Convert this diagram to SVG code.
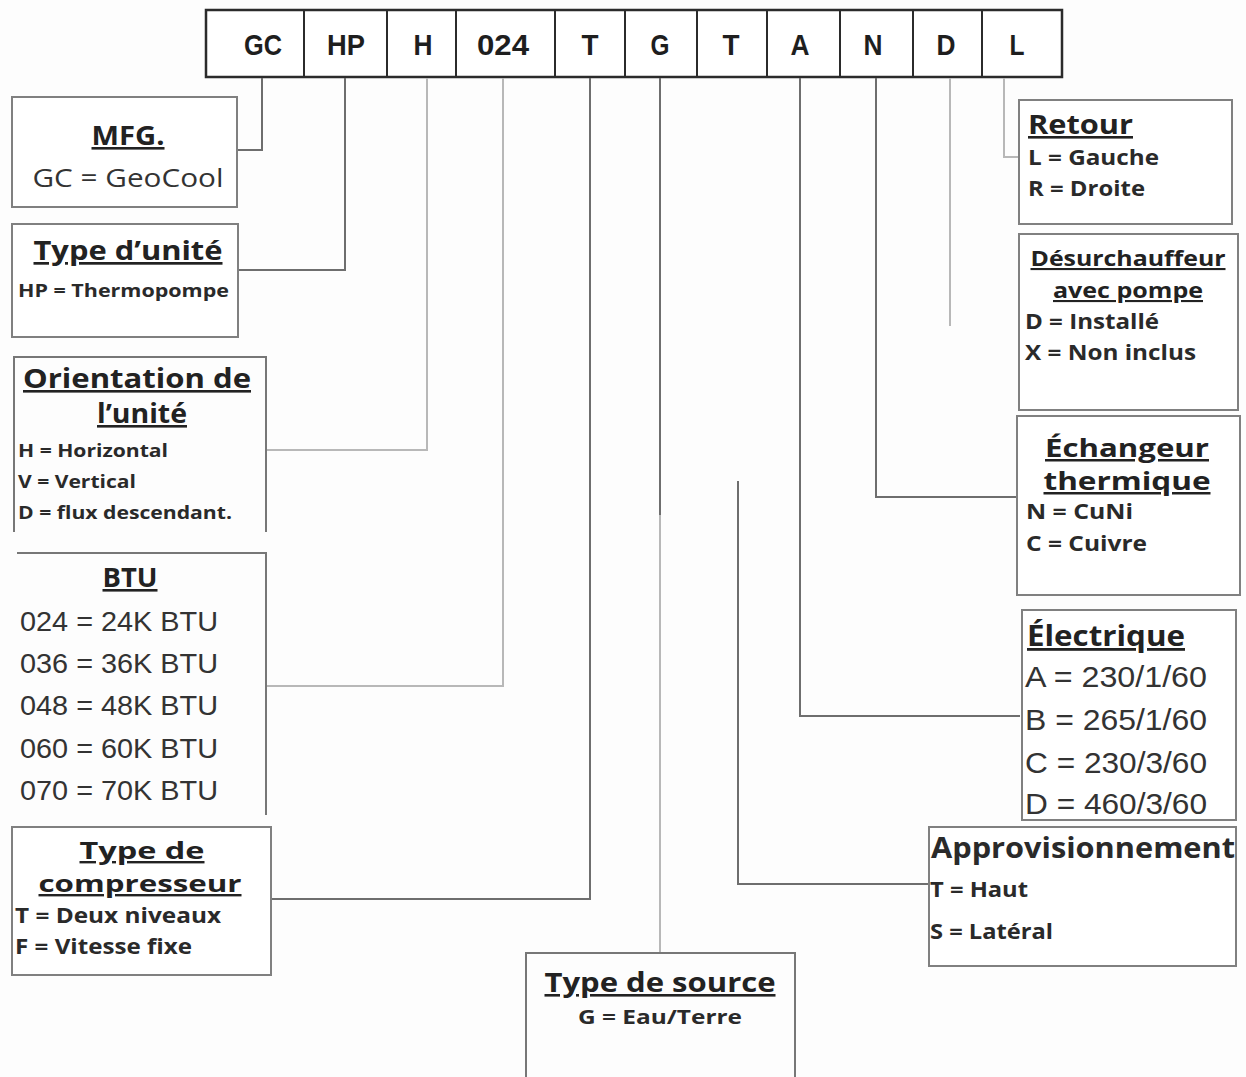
<svg xmlns="http://www.w3.org/2000/svg" width="1246" height="1077" viewBox="0 0 1246 1077">
<style>
.bg{fill:#fdfdfd}
.box{fill:#fff;stroke:#808080;stroke-width:2}
.edge{fill:none;stroke:#777;stroke-width:2}
.hdr{fill:#fff;stroke:#2b2b2b;stroke-width:2.5}
.div{stroke:#2b2b2b;stroke-width:2}
.code{font-family:"Liberation Sans Narrow","Liberation Sans",Arial,sans-serif;font-weight:bold;font-size:30px;fill:#1e1e1e;text-anchor:middle}
.t{font-family:"Open Sans","Noto Sans",sans-serif;font-weight:bold;fill:#222;text-decoration:underline}
.b{font-family:"Open Sans","Noto Sans",sans-serif;font-weight:bold;fill:#2a2a2a}
.r{font-family:"Open Sans","Noto Sans",sans-serif;fill:#333}
.c{font-family:"Liberation Sans","Noto Sans",sans-serif;fill:#333}
.mid{text-anchor:middle}
.ln{fill:none;stroke:#6e6e6e;stroke-width:2}
.lt{fill:none;stroke:#b8b8b8;stroke-width:2}
</style>
<rect class="bg" x="0" y="0" width="1246" height="1077"/>

<g id="header">
<rect class="hdr" x="206" y="10" width="856" height="67"/>
<line class="div" x1="304" y1="10" x2="304" y2="77"/>
<line class="div" x1="387" y1="10" x2="387" y2="77"/>
<line class="div" x1="456" y1="10" x2="456" y2="77"/>
<line class="div" x1="555" y1="10" x2="555" y2="77"/>
<line class="div" x1="625" y1="10" x2="625" y2="77"/>
<line class="div" x1="697" y1="10" x2="697" y2="77"/>
<line class="div" x1="767" y1="10" x2="767" y2="77"/>
<line class="div" x1="840" y1="10" x2="840" y2="77"/>
<line class="div" x1="913" y1="10" x2="913" y2="77"/>
<line class="div" x1="982" y1="10" x2="982" y2="77"/>
<text class="code" x="263" y="55" textLength="38" lengthAdjust="spacingAndGlyphs">GC</text>
<text class="code" x="346" y="55" textLength="38" lengthAdjust="spacingAndGlyphs">HP</text>
<text class="code" x="423" y="55" textLength="19" lengthAdjust="spacingAndGlyphs">H</text>
<text class="code" x="503" y="55" textLength="52" lengthAdjust="spacingAndGlyphs">024</text>
<text class="code" x="590" y="55" textLength="17" lengthAdjust="spacingAndGlyphs">T</text>
<text class="code" x="660" y="55" textLength="19" lengthAdjust="spacingAndGlyphs">G</text>
<text class="code" x="731" y="55" textLength="17" lengthAdjust="spacingAndGlyphs">T</text>
<text class="code" x="800" y="55" textLength="19" lengthAdjust="spacingAndGlyphs">A</text>
<text class="code" x="873" y="55" textLength="19" lengthAdjust="spacingAndGlyphs">N</text>
<text class="code" x="946" y="55" textLength="19" lengthAdjust="spacingAndGlyphs">D</text>
<text class="code" x="1017" y="55" textLength="15" lengthAdjust="spacingAndGlyphs">L</text>
</g>

<g id="connectors">
<polyline class="ln" points="262,78 262,150 237,150"/>
<polyline class="ln" points="345,78 345,270 238,270"/>
<polyline class="lt" points="427,78 427,450 266,450"/>
<polyline class="lt" points="503,78 503,686 266,686"/>
<polyline class="ln" points="590,78 590,899 271,899"/>
<polyline class="ln" points="660,78 660,515"/>
<polyline class="lt" points="660,515 660,953"/>
<polyline class="ln" points="738,481 738,884 929,884"/>
<polyline class="ln" points="800,78 800,716 1020,716"/>
<polyline class="ln" points="876,78 876,497 1017,497"/>
<polyline class="lt" points="950,78 950,326"/>
<polyline class="lt" points="1004,78 1004,157 1019,157"/>
</g>

<g id="mfg">
<rect class="box" x="12" y="97" width="225" height="110"/>
<text class="t mid" x="128" y="145" font-size="26" textLength="73" lengthAdjust="spacingAndGlyphs">MFG.</text>
<text class="r mid" x="128" y="187" font-size="26" textLength="191" lengthAdjust="spacingAndGlyphs">GC = GeoCool</text>
</g>

<g id="type-unite">
<rect class="box" x="12" y="224" width="226" height="113"/>
<text class="t mid" x="128" y="260" font-size="27" textLength="189" lengthAdjust="spacingAndGlyphs">Type d’unité</text>
<text class="b" x="18" y="297" font-size="18" textLength="211" lengthAdjust="spacingAndGlyphs">HP = Thermopompe</text>
</g>

<g id="orientation">
<path class="edge" d="M14,532 V357 H266 V532"/>
<text class="t mid" x="137" y="388" font-size="26" textLength="228" lengthAdjust="spacingAndGlyphs">Orientation de</text>
<text class="t mid" x="142" y="423" font-size="26" textLength="90" lengthAdjust="spacingAndGlyphs">l’unité</text>
<text class="b" x="18" y="457" font-size="18" textLength="150" lengthAdjust="spacingAndGlyphs">H = Horizontal</text>
<text class="b" x="18" y="488" font-size="18" textLength="118" lengthAdjust="spacingAndGlyphs">V = Vertical</text>
<text class="b" x="18" y="519" font-size="18" textLength="214" lengthAdjust="spacingAndGlyphs">D = flux descendant.</text>
</g>

<g id="btu">
<path class="edge" d="M17,553 H266 V815"/>
<text class="t mid" x="130" y="587" font-size="26" textLength="55" lengthAdjust="spacingAndGlyphs">BTU</text>
<text class="c" x="20" y="631" font-size="28" textLength="198" lengthAdjust="spacingAndGlyphs">024 = 24K BTU</text>
<text class="c" x="20" y="673" font-size="28" textLength="198" lengthAdjust="spacingAndGlyphs">036 = 36K BTU</text>
<text class="c" x="20" y="715" font-size="28" textLength="198" lengthAdjust="spacingAndGlyphs">048 = 48K BTU</text>
<text class="c" x="20" y="758" font-size="28" textLength="198" lengthAdjust="spacingAndGlyphs">060 = 60K BTU</text>
<text class="c" x="20" y="800" font-size="28" textLength="198" lengthAdjust="spacingAndGlyphs">070 = 70K BTU</text>
</g>

<g id="compresseur">
<rect class="box" x="12" y="827" width="259" height="148"/>
<text class="t mid" x="142" y="859" font-size="24" textLength="125" lengthAdjust="spacingAndGlyphs">Type de</text>
<text class="t mid" x="140" y="892" font-size="24" textLength="203" lengthAdjust="spacingAndGlyphs">compresseur</text>
<text class="b" x="15" y="923" font-size="21" textLength="206" lengthAdjust="spacingAndGlyphs">T = Deux niveaux</text>
<text class="b" x="15" y="954" font-size="21" textLength="177" lengthAdjust="spacingAndGlyphs">F = Vitesse fixe</text>
</g>

<g id="source">
<path class="edge" d="M526,1077 V953 H795 V1077"/>
<text class="t mid" x="660" y="992" font-size="26" textLength="231" lengthAdjust="spacingAndGlyphs">Type de source</text>
<text class="b mid" x="660" y="1024" font-size="20" textLength="164" lengthAdjust="spacingAndGlyphs">G = Eau/Terre</text>
</g>

<g id="retour">
<rect class="box" x="1019" y="100" width="213" height="124"/>
<text class="t" x="1028" y="134" font-size="26" textLength="105" lengthAdjust="spacingAndGlyphs">Retour</text>
<text class="b" x="1028" y="165" font-size="21" textLength="131" lengthAdjust="spacingAndGlyphs">L = Gauche</text>
<text class="b" x="1028" y="196" font-size="21" textLength="117" lengthAdjust="spacingAndGlyphs">R = Droite</text>
</g>

<g id="desurchauffeur">
<rect class="box" x="1019" y="234" width="219" height="176"/>
<text class="t mid" x="1128" y="266" font-size="21" textLength="195" lengthAdjust="spacingAndGlyphs">Désurchauffeur</text>
<text class="t mid" x="1128" y="298" font-size="21" textLength="150" lengthAdjust="spacingAndGlyphs">avec pompe</text>
<text class="b" x="1025" y="329" font-size="21" textLength="134" lengthAdjust="spacingAndGlyphs">D = Installé</text>
<text class="b" x="1025" y="360" font-size="21" textLength="171" lengthAdjust="spacingAndGlyphs">X = Non inclus</text>
</g>

<g id="echangeur">
<rect class="box" x="1017" y="416" width="223" height="179"/>
<text class="t mid" x="1127" y="457" font-size="25" textLength="164" lengthAdjust="spacingAndGlyphs">Échangeur</text>
<text class="t mid" x="1127" y="490" font-size="25" textLength="167" lengthAdjust="spacingAndGlyphs">thermique</text>
<text class="b" x="1026" y="519" font-size="21" textLength="107" lengthAdjust="spacingAndGlyphs">N = CuNi</text>
<text class="b" x="1026" y="551" font-size="21" textLength="121" lengthAdjust="spacingAndGlyphs">C = Cuivre</text>
</g>

<g id="electrique">
<rect class="box" x="1022" y="610" width="214" height="210"/>
<text class="t" x="1027" y="646" font-size="28" textLength="158" lengthAdjust="spacingAndGlyphs">Électrique</text>
<text class="c" x="1025" y="687" font-size="29" textLength="182" lengthAdjust="spacingAndGlyphs">A = 230/1/60</text>
<text class="c" x="1025" y="730" font-size="29" textLength="182" lengthAdjust="spacingAndGlyphs">B = 265/1/60</text>
<text class="c" x="1025" y="773" font-size="29" textLength="182" lengthAdjust="spacingAndGlyphs">C = 230/3/60</text>
<text class="c" x="1025" y="814" font-size="29" textLength="182" lengthAdjust="spacingAndGlyphs">D = 460/3/60</text>
</g>

<g id="approvisionnement">
<rect class="box" x="929" y="827" width="307" height="139"/>
<text class="b" x="931" y="858" font-size="28" textLength="304" lengthAdjust="spacingAndGlyphs">Approvisionnement</text>
<text class="b" x="930" y="897" font-size="21" textLength="98" lengthAdjust="spacingAndGlyphs">T = Haut</text>
<text class="b" x="930" y="939" font-size="21" textLength="123" lengthAdjust="spacingAndGlyphs">S = Latéral</text>
</g>
</svg>
